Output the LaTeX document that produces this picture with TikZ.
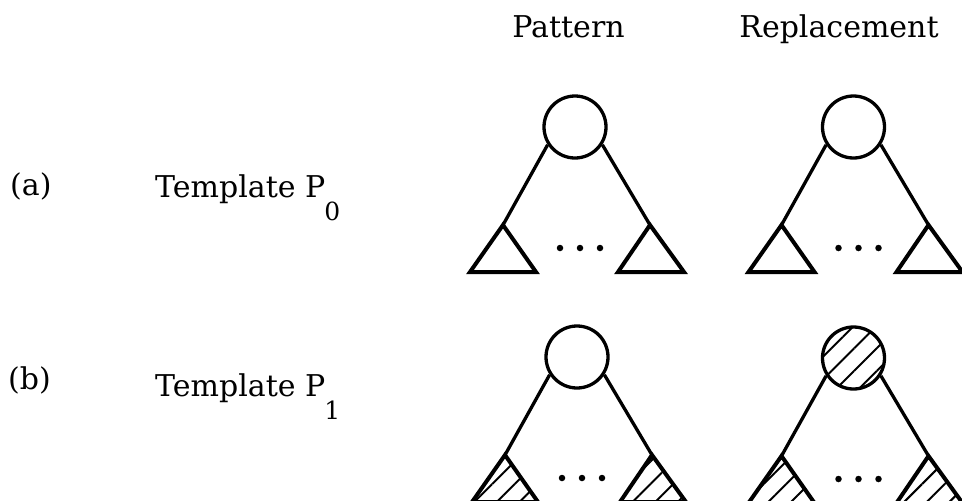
\documentclass[tikz,border=0pt]{standalone}
\usepackage{fontspec}
\setmainfont{DejaVu Serif}
\usetikzlibrary{patterns.meta}
\tikzset{
  treeline/.style={line width=3.3pt},
  rootnode/.style={circle, draw, line width=3.3pt, minimum size=62pt, inner sep=0pt},
  subtree/.style={draw, line width=4pt, line join=miter},
  hatch/.style={pattern={Lines[angle=45,distance=16pt,line width=2pt]}},
  plain/.style={},
  dotnode/.style={circle, fill, inner sep=0pt, minimum size=6.5pt},
  lbl/.style={anchor=base west, font=\fontsize{30}{36}\selectfont, inner sep=0pt},
  head/.style={anchor=base, font=\fontsize{30}{36}\selectfont, inner sep=0pt}
}
\newcommand\subidx[1]{\kern-1pt\raisebox{-23pt}{\fontsize{25}{30}\selectfont #1}}
% #1 name, #2 cx, #3 cy, #4 root style, #5 subtree style
\newcommand\drawtree[5]{%
  \begin{scope}[shift={(#2,#3)}]
    \node[rootnode,#4] (#1r) at (0,0) {};
    \coordinate (#1la) at (-72,98);
    \coordinate (#1ra) at (75,98);
    \path[subtree,#5] (#1la) -- (-105,145) -- (-39,145) -- cycle;
    \path[subtree,#5] (#1ra) -- (43,145) -- (109,145) -- cycle;
    \draw[treeline] (#1r.213) -- (#1la);
    \draw[treeline] (#1r.327) -- (#1ra);
    \node[dotnode] (#1d1) at (-15,121) {};
    \node[dotnode] (#1d2) at (5,121) {};
    \node[dotnode] (#1d3) at (25,121) {};
  \end{scope}}
\begin{document}
\begin{tikzpicture}[x=1pt,y=-1pt]
  \useasboundingbox (0,0) rectangle (962,501);
  \node[head] (hp) at (568.5,37) {Pattern};
  \node[head] (hr) at (839,37) {Replacement};
  \node[lbl] (la) at (10,195) {(a)};
  \node[lbl] (ta) at (155,197) {Template P\subidx{0}};
  \node[lbl] (lb) at (8,389) {(b)};
  \node[lbl] (tb) at (155,396) {Template P\subidx{1}};
  \drawtree{tl}{575}{127}{plain}{plain}
  \drawtree{tr}{853.5}{127}{plain}{plain}
  \drawtree{bl}{577}{357}{plain}{hatch}
  \drawtree{br}{853.5}{358}{hatch}{hatch}
\end{tikzpicture}
\end{document}
